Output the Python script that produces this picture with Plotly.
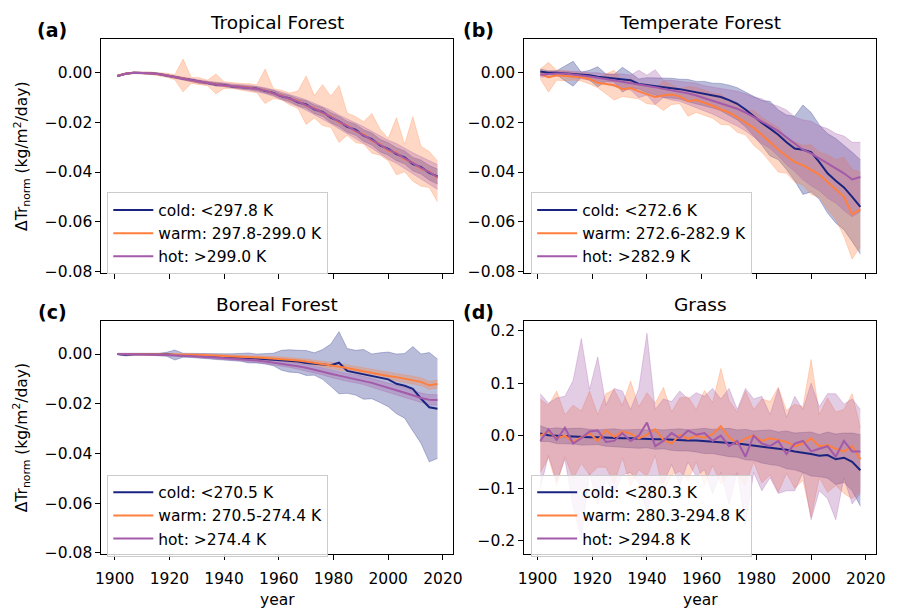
import plotly.graph_objects as go

FONT = "DejaVu Sans"

years = list(range(1901, 2019, 3))

panel_titles = ["Tropical Forest", "Temperate Forest", "Boreal Forest", "Grass"]
panel_tags = ["(a)", "(b)", "(c)", "(d)"]
legend_labels = [
    ["cold: &lt;297.8 K", "warm: 297.8-299.0 K", "hot: &gt;299.0 K"],
    ["cold: &lt;272.6 K", "warm: 272.6-282.9 K", "hot: &gt;282.9 K"],
    ["cold: &lt;270.5 K", "warm: 270.5-274.4 K", "hot: &gt;274.4 K"],
    ["cold: &lt;280.3 K", "warm: 280.3-294.8 K", "hot: &gt;294.8 K"],
]
x_ticks = [1900, 1920, 1940, 1960, 1980, 2000, 2020]
y_ticks_forest = [-0.08, -0.06, -0.04, -0.02, 0.0]
y_ticks_grass = [-0.2, -0.1, 0.0, 0.1, 0.2]

# ---------------- (a) Tropical Forest ----------------
a_cold = [-0.0013,-0.0004,0.0,0.0,-0.0002,-0.0005,-0.0011,-0.0016,-0.0023,-0.003,-0.0037,-0.004,-0.0047,-0.0049,-0.0055,-0.0057,-0.0061,-0.0064,-0.0073,-0.0081,-0.0095,-0.0104,-0.0119,-0.0128,-0.0147,-0.0158,-0.0181,-0.0196,-0.0218,-0.0229,-0.0253,-0.0267,-0.0293,-0.0307,-0.0328,-0.0341,-0.0368,-0.038,-0.0403,-0.0418]
a_warm = [-0.0012,-0.0004,0.0,0.0,-0.0002,-0.0006,-0.001,-0.0018,-0.0022,-0.0031,-0.0035,-0.0042,-0.0045,-0.0051,-0.0053,-0.0058,-0.0059,-0.0066,-0.007,-0.0084,-0.0091,-0.0107,-0.0114,-0.0133,-0.0142,-0.0163,-0.0175,-0.0201,-0.0212,-0.0236,-0.0247,-0.0274,-0.0287,-0.0314,-0.0321,-0.0349,-0.0362,-0.0387,-0.0397,-0.0425]
a_hot = [-0.0013,-0.0004,0.0,0.0,-0.0002,-0.0005,-0.001,-0.0017,-0.0024,-0.003,-0.0036,-0.0041,-0.0046,-0.005,-0.0054,-0.0057,-0.006,-0.0065,-0.0072,-0.0082,-0.0093,-0.0105,-0.0117,-0.013,-0.0145,-0.016,-0.0178,-0.0198,-0.0215,-0.0232,-0.025,-0.027,-0.029,-0.031,-0.0325,-0.0345,-0.0365,-0.0383,-0.04,-0.042]
a_cold_sd = [0.0002,0.0002,0.0002,0.0002,0.0003,0.0003,0.0004,0.0004,0.0004,0.0005,0.0005,0.0005,0.0006,0.0006,0.0006,0.0007,0.0007,0.0008,0.0009,0.001,0.0011,0.0012,0.0014,0.0015,0.0017,0.0018,0.002,0.0021,0.0022,0.0022,0.0023,0.0024,0.0025,0.0025,0.0026,0.0026,0.0027,0.0028,0.0029,0.003]
a_warm_up = [0.0003,0.0003,0.0003,0.0004,0.0005,0.0006,0.0008,0.001,0.0077,0.0012,0.0015,0.0012,0.004,0.0015,0.0012,0.0015,0.0015,0.0018,0.0085,0.002,0.002,0.0025,0.004,0.012,0.005,0.0115,0.008,0.015,0.005,0.006,0.005,0.011,0.006,0.005,0.014,0.006,0.0185,0.009,0.008,0.007]
a_warm_dn = [0.0003,0.0003,0.0003,0.0004,0.0005,0.0006,0.0008,0.001,0.0055,0.0012,0.0012,0.001,0.004,0.0012,0.001,0.0012,0.0015,0.0015,0.0054,0.002,0.0018,0.0022,0.003,0.0075,0.004,0.005,0.0045,0.008,0.004,0.0045,0.004,0.005,0.0045,0.004,0.009,0.005,0.0075,0.007,0.0065,0.0095]
a_hot_sd = [0.0003,0.0003,0.0003,0.0003,0.0004,0.0004,0.0005,0.0005,0.0006,0.0006,0.0007,0.0007,0.0008,0.0008,0.0009,0.0009,0.001,0.0011,0.0012,0.0013,0.0015,0.0017,0.0019,0.0021,0.0023,0.0025,0.0027,0.0028,0.003,0.0031,0.0032,0.0034,0.0036,0.0038,0.004,0.0041,0.0043,0.0045,0.0047,0.005]

# ---------------- (b) Temperate Forest ----------------
b_cold = [0.0005,0.0,0.0,-0.0002,-0.0004,-0.0008,-0.001,-0.0016,-0.002,-0.0022,-0.0028,-0.003,-0.0045,-0.005,-0.0055,-0.006,-0.0062,-0.0066,-0.0072,-0.008,-0.0085,-0.0092,-0.0098,-0.011,-0.0125,-0.0148,-0.0175,-0.0202,-0.0225,-0.025,-0.028,-0.0305,-0.031,-0.032,-0.036,-0.0405,-0.0435,-0.0462,-0.05,-0.054]
b_warm = [-0.0005,-0.0018,-0.001,-0.0012,-0.0014,-0.0018,-0.0025,-0.004,-0.0045,-0.005,-0.0066,-0.0062,-0.0075,-0.0085,-0.0098,-0.0092,-0.0088,-0.0095,-0.0115,-0.011,-0.012,-0.0133,-0.0148,-0.016,-0.018,-0.02,-0.0222,-0.025,-0.028,-0.031,-0.0335,-0.036,-0.0372,-0.039,-0.041,-0.044,-0.047,-0.05,-0.057,-0.055]
b_hot = [-0.0008,-0.0005,-0.0003,-0.0003,-0.0006,-0.001,-0.0015,-0.002,-0.0025,-0.003,-0.0035,-0.004,-0.0045,-0.005,-0.0058,-0.0065,-0.007,-0.0075,-0.0083,-0.0092,-0.0102,-0.0112,-0.0123,-0.0133,-0.0145,-0.016,-0.0178,-0.0195,-0.0215,-0.0235,-0.026,-0.0288,-0.031,-0.0325,-0.0345,-0.0365,-0.0385,-0.0405,-0.043,-0.042]
b_cold_sd = [0.001,0.0008,0.0008,0.003,0.005,0.001,0.002,0.004,0.0015,0.0015,0.005,0.003,0.002,0.003,0.0035,0.004,0.004,0.004,0.0045,0.0045,0.005,0.005,0.0055,0.006,0.0065,0.007,0.008,0.009,0.011,0.01,0.011,0.013,0.018,0.016,0.015,0.016,0.017,0.017,0.018,0.019]
b_warm_sd = [0.002,0.006,0.002,0.002,0.0015,0.0015,0.002,0.002,0.004,0.006,0.003,0.004,0.003,0.004,0.003,0.006,0.004,0.003,0.006,0.005,0.005,0.005,0.006,0.005,0.006,0.005,0.007,0.007,0.008,0.009,0.007,0.008,0.008,0.01,0.009,0.011,0.012,0.016,0.018,0.015]
b_hot_sd = [0.001,0.001,0.001,0.001,0.0012,0.0015,0.0015,0.002,0.002,0.0025,0.003,0.003,0.0055,0.004,0.007,0.0035,0.004,0.004,0.0045,0.005,0.005,0.0055,0.006,0.0065,0.007,0.0075,0.008,0.009,0.009,0.01,0.011,0.011,0.012,0.013,0.013,0.014,0.014,0.015,0.015,0.014]

# ---------------- (c) Boreal Forest ----------------
c_cold = [0.0,-0.0003,-0.0001,0.0,-0.0001,-0.0002,-0.0001,-0.0004,-0.0005,-0.0006,-0.0008,-0.0009,-0.001,-0.0012,-0.0013,-0.0014,-0.0016,-0.0018,-0.002,-0.0022,-0.0025,-0.0028,-0.003,-0.0036,-0.004,-0.0042,-0.0045,-0.0035,-0.0068,-0.0075,-0.0082,-0.009,-0.0095,-0.0102,-0.012,-0.0128,-0.014,-0.018,-0.0214,-0.022]
c_warm = [0.0,0.0,0.0,0.0,0.0,-0.0001,-0.0001,-0.0002,-0.0003,-0.0003,-0.0004,-0.0005,-0.0007,-0.0008,-0.0009,-0.001,-0.0012,-0.0014,-0.0016,-0.0018,-0.002,-0.0023,-0.0026,-0.003,-0.0035,-0.004,-0.0044,-0.005,-0.0056,-0.0063,-0.007,-0.0076,-0.0082,-0.0088,-0.0093,-0.0099,-0.0104,-0.0112,-0.0126,-0.0121]
c_hot = [0.0,0.0,-0.0001,-0.0001,-0.0002,-0.0003,-0.0004,-0.0005,-0.0007,-0.0008,-0.001,-0.0012,-0.0014,-0.0016,-0.0018,-0.002,-0.0023,-0.0026,-0.003,-0.0034,-0.0038,-0.0043,-0.0049,-0.0055,-0.0062,-0.007,-0.0079,-0.0087,-0.0094,-0.0099,-0.0106,-0.0116,-0.0126,-0.0135,-0.0145,-0.0156,-0.0166,-0.0177,-0.0184,-0.0185]
c_cold_sd = [0.0003,0.0005,0.0004,0.0003,0.0004,0.0005,0.0008,0.002,0.0008,0.0008,0.001,0.001,0.0012,0.0013,0.0014,0.0015,0.002,0.0018,0.002,0.0025,0.004,0.0045,0.0045,0.005,0.0045,0.006,0.0085,0.0125,0.009,0.009,0.01,0.009,0.01,0.011,0.012,0.013,0.017,0.018,0.022,0.02]
c_warm_sd = [0.0002,0.0002,0.0002,0.0002,0.0003,0.0003,0.0003,0.0003,0.0004,0.0004,0.0004,0.0005,0.0005,0.0005,0.0006,0.0006,0.0006,0.0007,0.0007,0.0008,0.0008,0.0009,0.0009,0.001,0.001,0.0011,0.0011,0.0012,0.0012,0.0013,0.0013,0.0013,0.0014,0.0014,0.0014,0.0015,0.0015,0.0015,0.0016,0.0016]
c_hot_sd = [0.0002,0.0002,0.0002,0.0002,0.0003,0.0003,0.0003,0.0004,0.0004,0.0004,0.0005,0.0005,0.0006,0.0006,0.0007,0.0007,0.0008,0.0008,0.0009,0.001,0.001,0.0011,0.0012,0.0013,0.0013,0.0014,0.0015,0.0016,0.0016,0.0017,0.0017,0.0018,0.0018,0.0019,0.0019,0.002,0.002,0.002,0.0021,0.0021]

# ---------------- (d) Grass ----------------
d_cold = [0.004,0.001,0.0,-0.001,-0.001,-0.002,-0.003,-0.003,-0.004,-0.004,-0.005,-0.005,-0.006,-0.006,-0.007,-0.007,-0.008,-0.008,-0.009,-0.009,-0.01,-0.011,-0.012,-0.013,-0.015,-0.017,-0.019,-0.021,-0.022,-0.025,-0.027,-0.03,-0.032,-0.035,-0.038,-0.037,-0.045,-0.042,-0.05,-0.066]
d_warm = [0.0,0.008,-0.005,0.0,-0.012,-0.003,0.005,-0.01,0.01,-0.002,0.008,0.004,-0.005,0.002,0.012,-0.008,-0.015,0.002,-0.006,0.0,-0.004,0.003,0.018,-0.003,-0.015,-0.005,0.0,-0.01,-0.005,-0.008,-0.012,-0.02,-0.015,-0.005,-0.02,-0.018,-0.025,-0.03,-0.02,-0.045]
d_hot = [-0.01,0.012,-0.008,0.015,-0.015,-0.005,0.008,0.01,-0.012,-0.01,0.005,-0.01,0.0,0.025,-0.02,-0.01,0.005,-0.005,0.01,0.002,0.005,-0.01,0.0,-0.02,-0.01,-0.04,0.0,-0.015,-0.02,-0.01,-0.035,-0.015,-0.01,-0.03,-0.025,-0.02,-0.04,-0.01,-0.03,-0.03]
d_cold_sd = [0.015,0.012,0.015,0.014,0.015,0.016,0.015,0.014,0.016,0.017,0.016,0.017,0.018,0.017,0.019,0.018,0.02,0.021,0.02,0.022,0.024,0.023,0.025,0.027,0.026,0.029,0.028,0.031,0.033,0.032,0.036,0.035,0.038,0.042,0.04,0.044,0.048,0.047,0.055,0.068]
d_warm_sd = [0.07,0.05,0.09,0.04,0.07,0.05,0.08,0.05,0.07,0.09,0.05,0.1,0.06,0.08,0.05,0.1,0.06,0.07,0.08,0.05,0.09,0.06,0.11,0.07,0.06,0.09,0.05,0.08,0.07,0.1,0.06,0.08,0.07,0.15,0.06,0.09,0.07,0.08,0.1,0.06]
d_hot_sd = [0.09,0.05,0.08,0.06,0.12,0.19,0.08,0.14,0.07,0.1,0.08,0.06,0.09,0.17,0.07,0.08,0.06,0.09,0.06,0.08,0.07,0.1,0.07,0.11,0.06,0.13,0.07,0.09,0.06,0.1,0.07,0.09,0.06,0.13,0.08,0.1,0.12,0.07,0.1,0.08]

panels = [
    dict(means=[a_cold, a_warm, a_hot], ups=[a_cold_sd, a_warm_up, a_hot_sd], dns=[a_cold_sd, a_warm_dn, a_hot_sd]),
    dict(means=[b_cold, b_warm, b_hot], ups=[b_cold_sd, b_warm_sd, b_hot_sd], dns=[b_cold_sd, b_warm_sd, b_hot_sd]),
    dict(means=[c_cold, c_warm, c_hot], ups=[c_cold_sd, c_warm_sd, c_hot_sd], dns=[c_cold_sd, c_warm_sd, c_hot_sd]),
    dict(means=[d_cold, d_warm, d_hot], ups=[d_cold_sd, d_warm_sd, d_hot_sd], dns=[d_cold_sd, d_warm_sd, d_hot_sd]),
]

colors = [(26, 36, 128), (255, 127, 62), (163, 90, 170)]


def rgba(c, a):
    return f"rgba({c[0]},{c[1]},{c[2]},{a})"


W, H = 907, 608
x_dom = [[97 / W, 455 / W], [527 / W, 885 / W]]
y_dom = [[1 - 276.5 / H, 1 - 40 / H], [1 - 561.7 / H, 1 - 325 / H]]

fig = go.Figure()

for p, panel in enumerate(panels):
    sfx = "" if p == 0 else str(p + 1)
    xr, yr = "x" + sfx, "y" + sfx
    leg = "legend" if p == 0 else f"legend{p + 1}"
    for g in range(3):
        m, up, dn = panel["means"][g], panel["ups"][g], panel["dns"][g]
        lo = [mi - d for mi, d in zip(m, dn)]
        hi = [mi + u for mi, u in zip(m, up)]
        fig.add_trace(go.Scatter(x=years, y=lo, xaxis=xr, yaxis=yr, mode="lines",
                                 line=dict(color=rgba(colors[g], 0.35), width=0.8),
                                 showlegend=False, hoverinfo="skip", legend=leg))
        fig.add_trace(go.Scatter(x=years, y=hi, xaxis=xr, yaxis=yr, mode="lines",
                                 line=dict(color=rgba(colors[g], 0.35), width=0.8),
                                 fill="tonexty", fillcolor=rgba(colors[g], 0.3),
                                 showlegend=False, hoverinfo="skip", legend=leg))
    for g in range(3):
        fig.add_trace(go.Scatter(x=years, y=panel["means"][g], xaxis=xr, yaxis=yr, mode="lines",
                                 line=dict(color=rgba(colors[g], 1), width=2),
                                 name=legend_labels[p][g], legend=leg))

axis_common = dict(showline=True, linecolor="black", linewidth=1, mirror=True,
                   ticks="outside", ticklen=5, tickwidth=1, tickcolor="black",
                   showgrid=False, zeroline=False,
                   tickfont=dict(family=FONT, size=15.5, color="black"))

layout = {}
for p in range(4):
    col, row = p % 2, p // 2
    sfx = "" if p == 0 else str(p + 1)
    layout["xaxis" + sfx] = dict(axis_common, domain=x_dom[col], anchor="y" + sfx,
                                 range=[1895.15, 2023.85], tickvals=x_ticks,
                                 showticklabels=(row == 1), ticklabelstandoff=5)
    if p == 3:
        layout["yaxis" + sfx] = dict(axis_common, domain=y_dom[row], anchor="x" + sfx,
                                     range=[-0.226, 0.219], tickvals=y_ticks_grass, tickformat=".1f")
    else:
        layout["yaxis" + sfx] = dict(axis_common, domain=y_dom[row], anchor="x" + sfx,
                                     range=[-0.0806, 0.0134], tickvals=y_ticks_forest, tickformat=".2f")

leg_pos = [(103, 195), (534, 195), (103, 481), (534, 481)]
for p in range(4):
    key = "legend" if p == 0 else f"legend{p + 1}"
    layout[key] = dict(x=leg_pos[p][0] / W, y=1 - leg_pos[p][1] / H, xanchor="left", yanchor="top",
                       bgcolor="rgba(255,255,255,0.8)", bordercolor="#cccccc", borderwidth=1,
                       font=dict(family=FONT, size=15.5, color="black"), tracegroupgap=0,
                       traceorder="normal", itemwidth=40)

ann = []
centers_x = [(97 + 455) / 2, (527 + 885) / 2]
title_y = [23, 309]
tag_pos = [(47, 30), (480, 30), (47, 316), (480, 316)]
for p in range(4):
    col, row = p % 2, p // 2
    ann.append(dict(text=panel_titles[p], x=centers_x[col] / W, y=1 - title_y[row] / H,
                    xref="paper", yref="paper", showarrow=False, xanchor="center", yanchor="middle",
                    font=dict(family=FONT, size=18.5, color="black")))
    ann.append(dict(text="<b>" + panel_tags[p] + "</b>", x=tag_pos[p][0] / W, y=1 - tag_pos[p][1] / H,
                    xref="paper", yref="paper", showarrow=False, xanchor="center", yanchor="middle",
                    font=dict(family=FONT, size=19, color="black")))
for row in range(2):
    yc = (y_dom[row][0] + y_dom[row][1]) / 2
    ann.append(dict(text="ΔTr<sub>norm</sub> (kg/m<sup>2</sup>/day)", x=16 / W, y=yc,
                    xref="paper", yref="paper", showarrow=False, textangle=-90,
                    xanchor="center", yanchor="middle",
                    font=dict(family=FONT, size=15.5, color="black")))
for col in range(2):
    ann.append(dict(text="year", x=centers_x[col] / W, y=1 - 608 / H, xref="paper", yref="paper",
                    showarrow=False, xanchor="center", yanchor="middle",
                    font=dict(family=FONT, size=15.5, color="black")))

fig.update_layout(**layout)
fig.update_layout(annotations=ann, width=W, height=H, margin=dict(l=0, r=0, t=0, b=0),
                  plot_bgcolor="white", paper_bgcolor="white",
                  font=dict(family=FONT, color="black"))

fig.write_html("out.html", config={"displayModeBar": False},
               post_script="document.body.style.margin='0px';")
